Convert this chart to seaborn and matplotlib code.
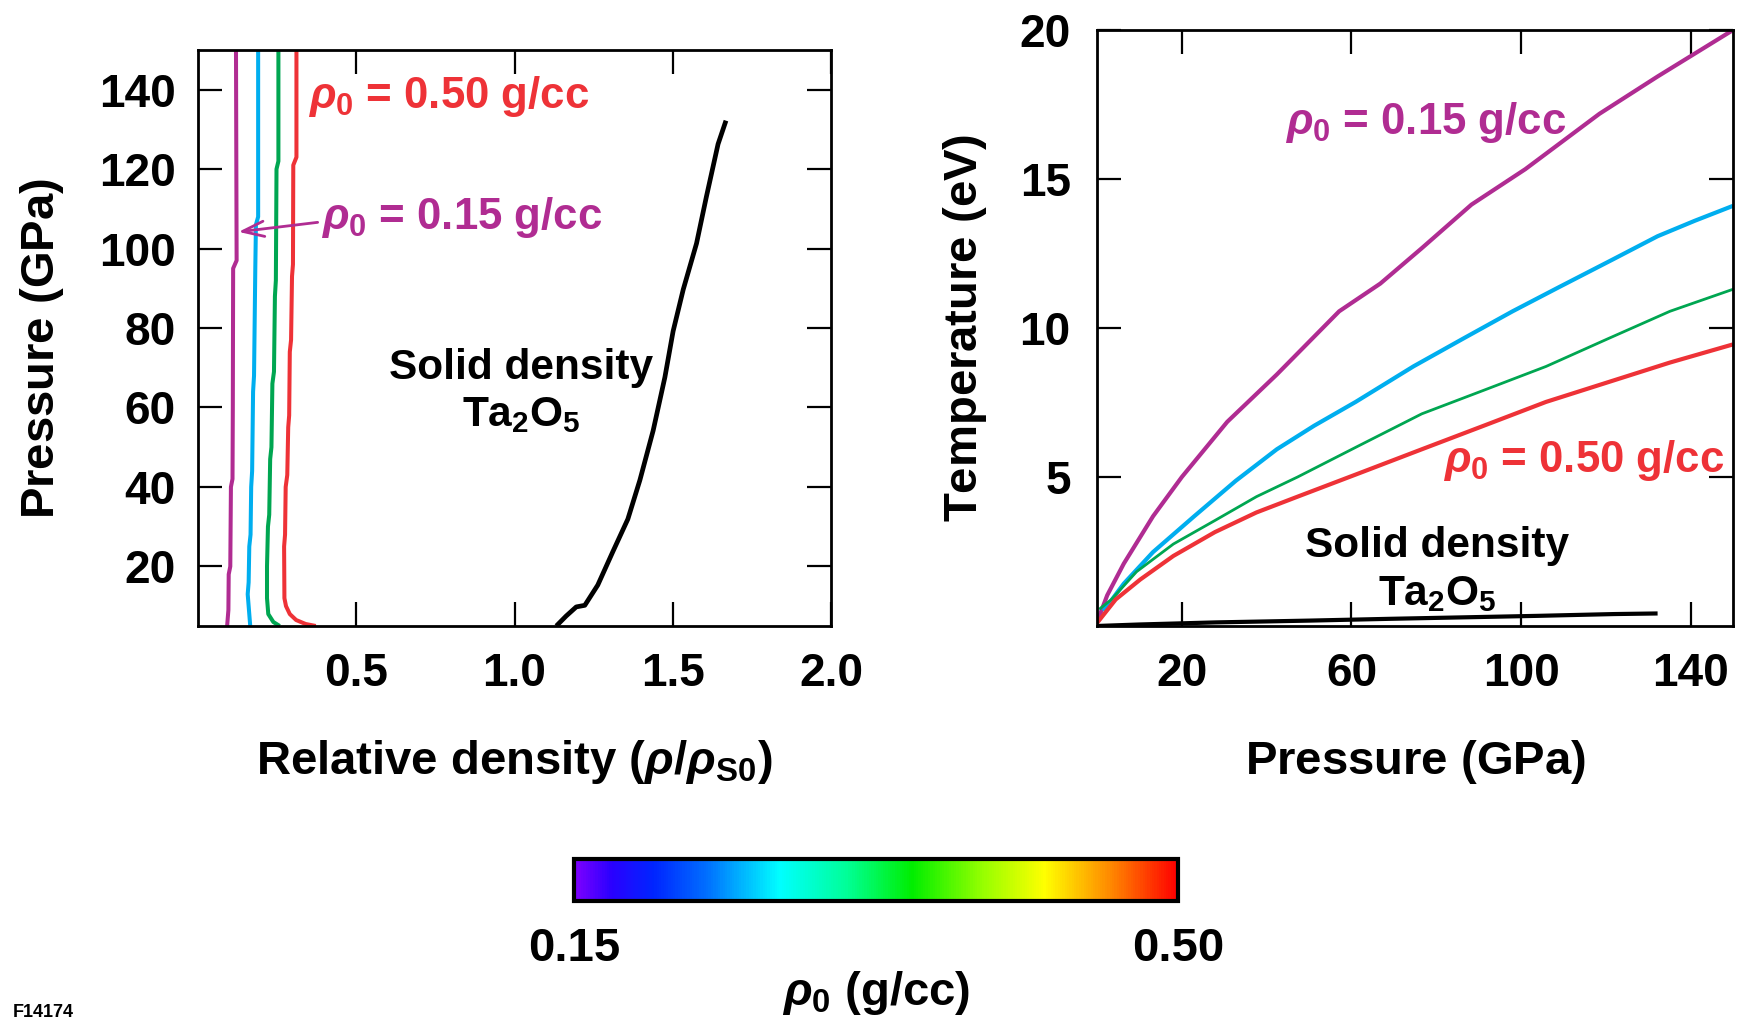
import matplotlib
matplotlib.use("Agg")
import matplotlib.pyplot as plt
import seaborn as sns
from matplotlib.colors import LinearSegmentedColormap, Normalize
from matplotlib.cm import ScalarMappable

# ---------------- data ----------------
# Hugoniot: pressure (GPa) vs relative density rho/rho_S0, for each initial foam density
hug_p_015 = [150, 97, 95, 60, 42, 40, 20, 18, 9, 8, 5]
hug_x_015 = [0.120, 0.122, 0.111, 0.110, 0.109, 0.104, 0.102, 0.097, 0.096, 0.095, 0.092]

hug_p_025 = [150, 108, 106, 95, 68, 64, 44, 40, 28, 25, 16, 13, 5]
hug_x_025 = [0.190, 0.190, 0.183, 0.181, 0.177, 0.174, 0.171, 0.168, 0.166, 0.162, 0.160, 0.157, 0.165]

hug_p_035 = [150, 122, 120, 92, 88, 69, 66, 50, 47, 33, 30, 20, 12, 8, 6, 5]
hug_x_035 = [0.254, 0.254, 0.248, 0.246, 0.243, 0.240, 0.235, 0.232, 0.228, 0.225, 0.221, 0.218, 0.218, 0.222, 0.238, 0.258]

hug_p_050 = [150, 123, 121, 96, 93, 77, 74, 58, 55, 43, 40, 28, 25, 12, 10, 8, 6.5, 5.5, 5]
hug_x_050 = [0.311, 0.311, 0.301, 0.300, 0.297, 0.294, 0.290, 0.288, 0.285, 0.282, 0.277, 0.275, 0.272, 0.273, 0.278, 0.290, 0.310, 0.340, 0.372]

hug_p_solid = [5, 7.5, 9.8, 10.2, 15.3, 23.6, 31.9, 41.7, 54.2, 67.6, 79.2, 89.7, 101.3, 113, 126.3, 132.2]
hug_x_solid = [1.132, 1.163, 1.195, 1.222, 1.263, 1.310, 1.358, 1.396, 1.438, 1.475, 1.501, 1.533, 1.575, 1.606, 1.643, 1.668]

# Temperature (eV) vs pressure (GPa)
temp_p_015 = [0.2, 2.4, 6.3, 13.2, 20, 30.7, 42.4, 57.1, 66.8, 76.6, 88.3, 101, 118.5, 132.2, 150]
temp_t_015 = [0.2, 1.03, 2.09, 3.68, 5.0, 6.85, 8.44, 10.56, 11.49, 12.68, 14.14, 15.33, 17.19, 18.44, 20.0]

temp_p_025 = [1.5, 6.3, 13.2, 22.9, 32.7, 42.4, 51.2, 61, 74.6, 86.3, 98, 108.8, 121.5, 132.2, 141, 150]
temp_t_025 = [0.5, 1.42, 2.48, 3.68, 4.87, 5.93, 6.72, 7.52, 8.71, 9.64, 10.56, 11.36, 12.29, 13.08, 13.6, 14.1]

temp_p_035 = [0.5, 3.4, 9.3, 18, 27.8, 37.6, 47.3, 61.9, 76.6, 91.2, 105.9, 120.5, 135.1, 150]
temp_t_035 = [0.56, 0.89, 1.82, 2.75, 3.54, 4.34, 5.0, 6.06, 7.12, 7.91, 8.71, 9.64, 10.56, 11.3]

temp_p_050 = [0, 4.4, 10.2, 18, 27.8, 37.6, 47.3, 61.9, 76.6, 91.2, 105.9, 120.5, 135.1, 150]
temp_t_050 = [0.1, 0.89, 1.56, 2.35, 3.15, 3.81, 4.34, 5.13, 5.93, 6.72, 7.52, 8.18, 8.84, 9.45]

temp_p_solid = [0, 10, 28, 50, 69, 104, 122, 132.2]
temp_t_solid = [0.0, 0.05, 0.12, 0.18, 0.24, 0.34, 0.40, 0.42]

rho_range = [0.15, 0.50]
density_ticks = [0.5, 1.0, 1.5, 2.0]
pressure_ticks_left = [20, 40, 60, 80, 100, 120, 140]
pressure_ticks_right = [20, 60, 100, 140]
temperature_ticks = [5, 10, 15, 20]

C_015 = "#B02C92"
C_025 = "#00AEEF"
C_035 = "#00A651"
C_050 = "#EE3237"

# ---------------- style ----------------
sns.set_theme(style="ticks")
plt.rcParams.update({
    "font.family": ["Liberation Sans", "DejaVu Sans"],
    "font.weight": "bold",
    "axes.labelweight": "bold",
    "mathtext.fontset": "custom",
    "mathtext.rm": "Liberation Sans:bold",
    "mathtext.bf": "Liberation Sans:bold",
    "mathtext.it": "Liberation Sans:italic:bold",
    "mathtext.sf": "Liberation Sans",
    "mathtext.cal": "Liberation Sans:italic",
    "axes.linewidth": 2.0,
    "axes.edgecolor": "black",
    "text.color": "black",
    "axes.labelcolor": "black",
    "xtick.color": "black",
    "ytick.color": "black",
    "xtick.direction": "in",
    "ytick.direction": "in",
    "xtick.top": True,
    "ytick.right": True,
    "xtick.major.size": 17,
    "ytick.major.size": 17,
    "xtick.major.width": 1.6,
    "ytick.major.width": 1.6,
    "lines.solid_capstyle": "butt",
})

TICK_FS = 33
LABEL_FS = 34
NOTE_FS = 31.5

fig = plt.figure(figsize=(17.43, 10.21), dpi=100)
fig.patch.set_facecolor("white")
ax1 = fig.add_axes([0.1136, 0.3869, 0.3632, 0.5642])
ax2 = fig.add_axes([0.6294, 0.3869, 0.3649, 0.5837])

# ---------------- left: Hugoniot in density-pressure plane ----------------
for xs, ps, c in [(hug_x_015, hug_p_015, C_015), (hug_x_025, hug_p_025, C_025),
                  (hug_x_035, hug_p_035, C_035), (hug_x_050, hug_p_050, C_050)]:
    sns.lineplot(x=xs, y=ps, sort=False, estimator=None, color=c, linewidth=2.9, ax=ax1)
sns.lineplot(x=hug_x_solid, y=hug_p_solid, sort=False, estimator=None, color="black",
             linewidth=3.4, ax=ax1)

ax1.set_xlim(0, 2.0)
ax1.set_ylim(5, 150)
ax1.set_xticks(density_ticks)
ax1.set_xticklabels([f"{v:.1f}" for v in density_ticks])
ax1.set_yticks(pressure_ticks_left)
ax1.tick_params(axis="x", labelsize=TICK_FS, pad=19)
ax1.tick_params(axis="y", labelsize=TICK_FS, pad=16)
ax1.set_xlabel(r"Relative density $\mathsf{(}\mathcal{\rho}\mathsf{/}\mathcal{\rho}_{\mathbf{S0}}\mathsf{)}$",
               fontsize=LABEL_FS, labelpad=30)
ax1.set_ylabel(r"Pressure $\mathsf{(}$GPa$\mathsf{)}$", fontsize=LABEL_FS, labelpad=24)
ax1.yaxis.label.set_y(0.482)

ax1.text(0.349, 135.4, r"$\rho_0$ = 0.50 g/cc", color=C_050, fontsize=NOTE_FS,
         ha="left", va="baseline")
ax1.text(0.388, 104.9, r"$\rho_0$ = 0.15 g/cc", color=C_015, fontsize=NOTE_FS,
         ha="left", va="baseline")
ax1.annotate("", xy=(0.128, 104.2), xytext=(0.378, 106.6),
             arrowprops=dict(arrowstyle="->,head_length=0.7,head_width=0.25",
                             color=C_015, lw=2.0, mutation_scale=22,
                             shrinkA=0, shrinkB=0))
ax1.text(1.021, 67.2, "Solid density", fontsize=30.5, ha="center", va="baseline")
ax1.text(1.021, 55.2, r"Ta$_\mathrm{2}$O$_\mathrm{5}$", fontsize=30.5, ha="center", va="baseline")

# ---------------- right: temperature along the Hugoniot ----------------
for ps, ts, c, lw in [(temp_p_015, temp_t_015, C_015, 3.0), (temp_p_025, temp_t_025, C_025, 3.0),
                      (temp_p_035, temp_t_035, C_035, 2.0), (temp_p_050, temp_t_050, C_050, 3.0)]:
    sns.lineplot(x=ps, y=ts, sort=False, estimator=None, color=c, linewidth=lw, ax=ax2)
sns.lineplot(x=temp_p_solid, y=temp_t_solid, sort=False, estimator=None, color="black",
             linewidth=3.0, ax=ax2)

ax2.set_xlim(0, 150)
ax2.set_ylim(0, 20)
ax2.set_xticks(pressure_ticks_right)
ax2.set_yticks(temperature_ticks)
ax2.tick_params(axis="x", labelsize=TICK_FS, pad=19)
ax2.tick_params(axis="y", labelsize=TICK_FS, pad=19)
ax2.set_xlabel(r"Pressure $\mathsf{(}$GPa$\mathsf{)}$", fontsize=LABEL_FS, labelpad=30)
ax2.set_ylabel(r"Temperature $\mathsf{(}$eV$\mathsf{)}$", fontsize=LABEL_FS, labelpad=22)

ax2.text(44.4, 16.52, r"$\rho_0$ = 0.15 g/cc", color=C_015, fontsize=NOTE_FS,
         ha="left", va="baseline")
ax2.text(81.5, 5.16, r"$\rho_0$ = 0.50 g/cc", color=C_050, fontsize=NOTE_FS,
         ha="left", va="baseline")
ax2.text(80.3, 2.30, "Solid density", fontsize=30.5, ha="center", va="baseline")
ax2.text(80.3, 0.71, r"Ta$_\mathrm{2}$O$_\mathrm{5}$", fontsize=30.5, ha="center", va="baseline")

# ---------------- colour bar for initial density ----------------
rho_cmap = LinearSegmentedColormap.from_list("rho0", [
    (0.00, "#7F00FF"), (0.06, "#2A00FF"), (0.13, "#0024FF"), (0.22, "#0070FF"),
    (0.34, "#00FFFF"), (0.45, "#00FF99"), (0.56, "#00EE00"), (0.68, "#99FF00"),
    (0.78, "#FFFF00"), (0.89, "#FF8800"), (1.00, "#FF0000")])
cax = fig.add_axes([0.3293, 0.1175, 0.3465, 0.0411])
cbar = fig.colorbar(ScalarMappable(norm=Normalize(*rho_range), cmap=rho_cmap),
                    cax=cax, orientation="horizontal")
cbar.set_ticks(rho_range)
cbar.set_ticklabels([f"{v:.2f}" for v in rho_range])
cbar.ax.tick_params(length=0, labelsize=34, pad=19, top=False)
cbar.outline.set_linewidth(3)
cbar.set_label(r"$\rho_0$ $\mathsf{(}$g/cc$\mathsf{)}$", fontsize=34, labelpad=-2)

fig.text(13 / 1743, 0.004, "F14174", fontsize=13, ha="left", va="baseline")

fig.savefig("out.png", dpi=100, facecolor="white")
